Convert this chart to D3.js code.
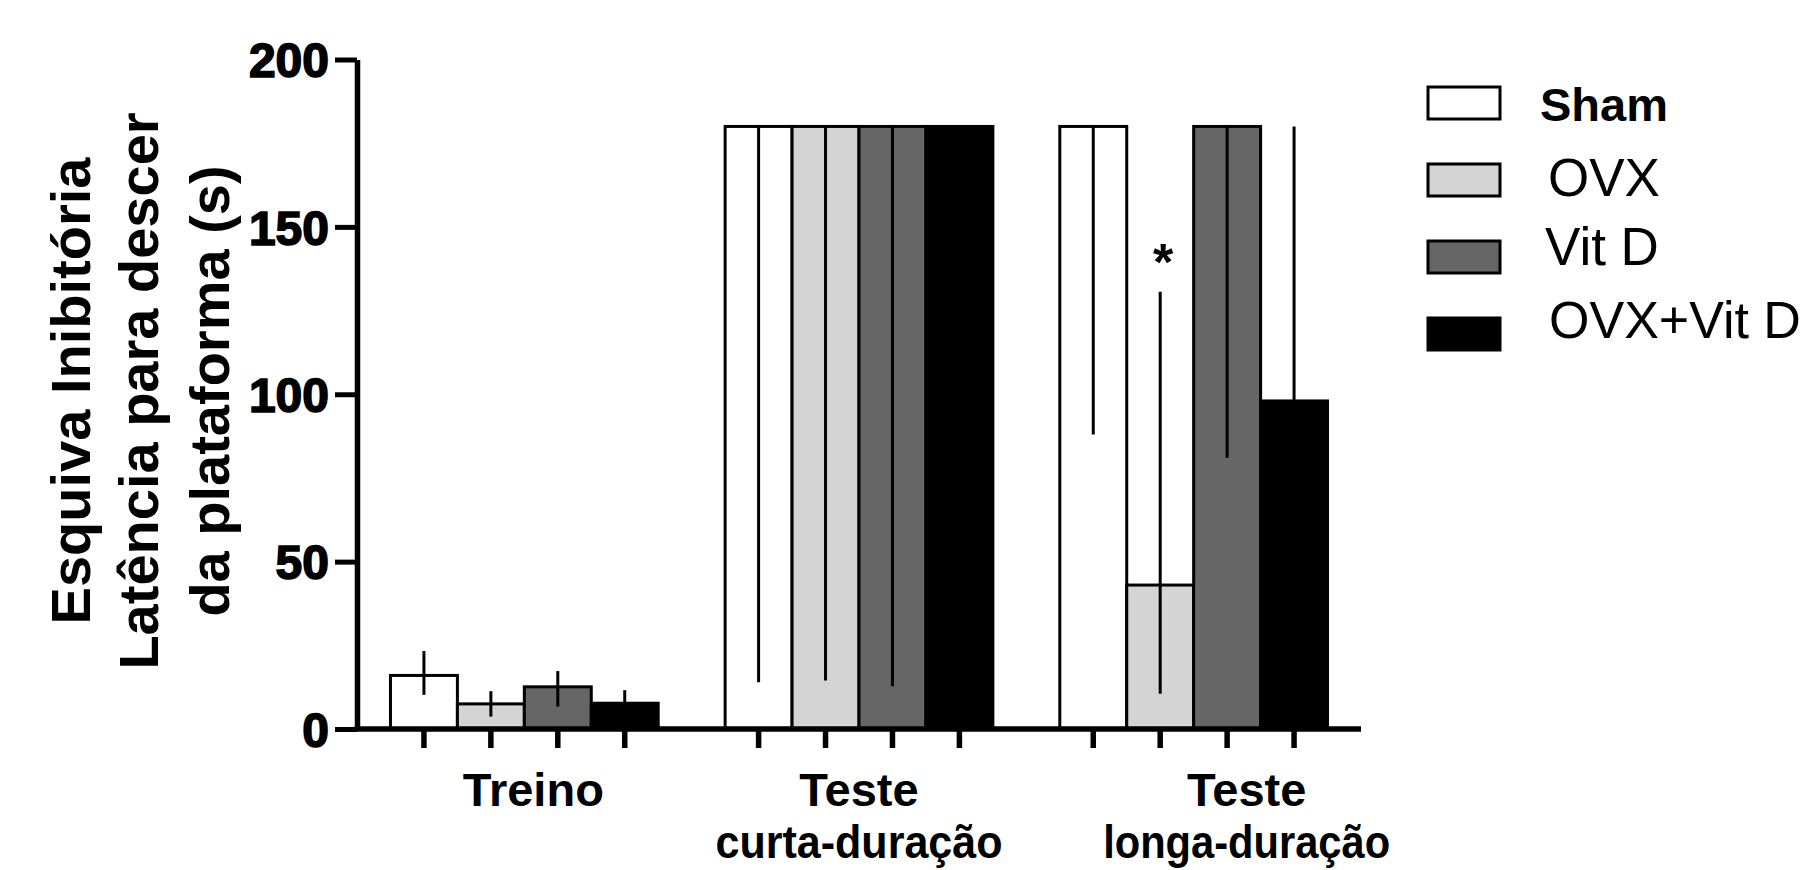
<!DOCTYPE html>
<html>
<head>
<meta charset="utf-8">
<script src="https://cdn.jsdelivr.net/npm/d3@7/dist/d3.min.js"></script>
<style>
  html, body { margin: 0; padding: 0; background: #fff; }
  svg { display: block; }
  text { font-family: "Liberation Sans", Arial, Helvetica, sans-serif; fill: #000; }
</style>
</head>
<body>
<svg id="chart" width="1802" height="870"></svg>
<script>
// ---------------- DATA ----------------
const categories = ["Treino", "Teste curta-duração", "Teste longa-duração"];
const categoryLines = [["Treino"], ["Teste", "curta-duração"], ["Teste", "longa-duração"]];
const series = ["Sham", "OVX", "Vit D", "OVX+Vit D"];

// bar heights (latency, s) per category
const shamMean    = [16.0, 180, 180];
const ovxMean     = [7.5, 180, 43];
const vitdMean    = [12.6, 180, 180];
const ovxVitdMean = [7.7, 180, 98];

// error bar low / high ends
const shamLow     = [10.2, 14.0, 88];
const shamHigh    = [23.3, 180, 180];
const ovxLow      = [3.7, 14.5, 10.5];
const ovxHigh     = [11.3, 180, 130.6];
const vitdLow     = [6.7, 12.8, 81];
const vitdHigh    = [17.3, 180, 180];
const ovxVitdLow  = [7.7, 180, 98];
const ovxVitdHigh = [11.6, 180, 180];

const yTicks = [0, 50, 100, 150, 200];
const yLabelLines = ["Esquiva Inibitória", "Latência para descer", "da plataforma (s)"];
const significance = [{ category: "Teste longa-duração", series: "OVX", label: "*" }];

// ---------------- STYLE / LAYOUT ----------------
const colors = { "Sham": "#ffffff", "OVX": "#d4d4d4", "Vit D": "#666666", "OVX+Vit D": "#000000" };
const layout = {
  x0: 357, x1: 1361, y0: 729, y1: 59.5,
  catLabelShift: [9, 0, 53],
  legendX: 1428, legendTop: 87, legendStep: 77, legendW: 72, legendH: 32,
  legendTextX: [1540, 1548, 1545, 1549],
  legendTextDy: [34, 32, 24, 20],
  legendFont: [47, 53, 53, 52],
  legendWeight: ["bold", "normal", "normal", "normal"]
};

const means = [shamMean, ovxMean, vitdMean, ovxVitdMean];
const lows = [shamLow, ovxLow, vitdLow, ovxVitdLow];
const highs = [shamHigh, ovxHigh, vitdHigh, ovxVitdHigh];

const bars = [];
categories.forEach((c, ci) => {
  series.forEach((s, si) => {
    bars.push({ category: c, series: s, value: means[si][ci], low: lows[si][ci], high: highs[si][ci] });
  });
});

const svg = d3.select("#chart");

const y = d3.scaleLinear().domain([0, 200]).range([layout.y0, layout.y1]);
const xCat = d3.scaleBand().domain(categories).range([layout.x0, layout.x1])
  .paddingInner(0.2).paddingOuter(0.1);
const xSer = d3.scaleBand().domain(series).range([0, xCat.bandwidth()]).padding(0);

const barX = d => xCat(d.category) + xSer(d.series);
const barCx = d => barX(d) + xSer.bandwidth() / 2;

// bars
svg.append("g").selectAll("rect").data(bars).join("rect")
  .attr("x", d => barX(d))
  .attr("y", d => y(d.value))
  .attr("width", xSer.bandwidth())
  .attr("height", d => y(0) - y(d.value))
  .attr("fill", d => colors[d.series])
  .attr("stroke", "#000")
  .attr("stroke-width", 3);

// error bars
svg.append("g").selectAll("line").data(bars).join("line")
  .attr("x1", d => barCx(d)).attr("x2", d => barCx(d))
  .attr("y1", d => y(d.low)).attr("y2", d => y(d.high))
  .attr("stroke", "#000").attr("stroke-width", 3);

// significance
significance.forEach(sg => {
  const d = bars.find(b => b.category === sg.category && b.series === sg.series);
  svg.append("text")
    .attr("x", barCx(d) + 3)
    .attr("y", y(d.high) - 12)
    .attr("text-anchor", "middle")
    .attr("font-size", 52)
    .attr("font-weight", "bold")
    .text(sg.label);
});

// y axis
const yAxis = d3.axisLeft(y).tickValues(yTicks).tickSize(22).tickSizeOuter(0).tickPadding(6);
const gy = svg.append("g").attr("transform", `translate(${layout.x0},0)`).call(yAxis);
gy.select(".domain").attr("stroke", "#000").attr("stroke-width", 5.5);
gy.selectAll(".tick line").attr("stroke", "#000").attr("stroke-width", 5);
gy.selectAll(".tick text")
  .attr("font-family", "'Liberation Sans', Arial, sans-serif")
  .attr("font-size", 48).attr("font-weight", "bold")
  .attr("fill", "#000").attr("stroke", "#000").attr("stroke-width", 1.6)
  .attr("dy", "0.36em");

// x axis line
svg.append("line")
  .attr("x1", layout.x0 - 2.5).attr("x2", layout.x1)
  .attr("y1", y(0)).attr("y2", y(0))
  .attr("stroke", "#000").attr("stroke-width", 5.5);

// x ticks at bar centers
svg.append("g").selectAll("line").data(bars).join("line")
  .attr("x1", d => barCx(d)).attr("x2", d => barCx(d))
  .attr("y1", y(0)).attr("y2", y(0) + 19)
  .attr("stroke", "#000").attr("stroke-width", 5.5);

// category labels
categories.forEach((c, ci) => {
  const cx = xCat(c) + xCat.bandwidth() / 2 + layout.catLabelShift[ci];
  categoryLines[ci].forEach((line, li) => {
    const t = svg.append("text")
      .attr("x", cx)
      .attr("y", 806 + li * 52)
      .attr("text-anchor", "middle")
      .attr("font-size", 47)
      .attr("font-weight", "bold")
      .text(line);
    if (li === 1) t.attr("textLength", 287).attr("lengthAdjust", "spacingAndGlyphs");
  });
});

// y label
const yLabelX = [90, 158, 229];
const yLabelCy = 391;
yLabelLines.forEach((line, i) => {
  svg.append("text")
    .attr("transform", `translate(${yLabelX[i]},${yLabelCy}) rotate(-90)`)
    .attr("text-anchor", "middle")
    .attr("font-size", 56)
    .attr("font-weight", "bold")
    .text(line);
});

// legend
const lg = svg.append("g");
series.forEach((s, i) => {
  const top = layout.legendTop + i * layout.legendStep;
  lg.append("rect")
    .attr("x", layout.legendX).attr("y", top)
    .attr("width", layout.legendW).attr("height", layout.legendH)
    .attr("fill", colors[s]).attr("stroke", "#000").attr("stroke-width", 3);
  lg.append("text")
    .attr("x", layout.legendTextX[i])
    .attr("y", top + layout.legendTextDy[i])
    .attr("font-size", layout.legendFont[i])
    .attr("font-weight", layout.legendWeight[i])
    .text(s);
});
</script>
</body>
</html>
